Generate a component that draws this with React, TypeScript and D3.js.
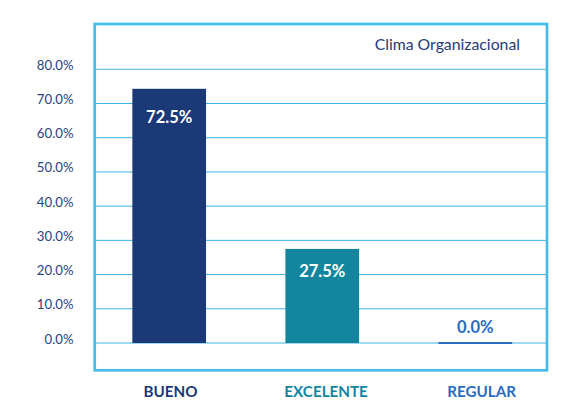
import React from 'react';
import * as d3 from 'd3';

// Chart data
const categories = ['BUENO', 'EXCELENTE', 'REGULAR'];
const barValues = [74.3, 27.5, 0];
const labelValues = [72.5, 27.5, 0.0];
const barColors = ['#1b3877', '#13869f', '#2b6cc2'];
const yTicks = [0, 10, 20, 30, 40, 50, 60, 70, 80];
const chartTitle = 'Clima Organizacional';

const WIDTH = 586;
const HEIGHT = 412;
const FONT = 'Lato, "Open Sans", sans-serif';

const App: React.FC = () => {
  const frame = { x: 94.7, y: 24, w: 452.3, h: 346.3 };

  const yScale = d3.scaleLinear().domain([0, 80]).range([343, 69.3]);
  const xBar = d3.scalePoint<string>().domain(categories).range([169.2, 475.3]);
  const xLabel = d3.scalePoint<string>().domain(categories).range([170.5, 481.7]);
  const barWidth = 73.7;
  const fmt = (v: number) => d3.format('.1f')(v) + '%';

  return (
    <svg
      width={WIDTH}
      height={HEIGHT}
      style={{ position: 'absolute', left: 0, top: 0, background: '#fff' }}
    >
      {/* gridlines */}
      {yTicks.map(t => (
        <line
          key={'g' + t}
          x1={frame.x}
          x2={frame.x + frame.w}
          y1={yScale(t)}
          y2={yScale(t)}
          stroke="#3cb4e4"
          strokeWidth={1}
        />
      ))}

      {/* tick labels */}
      {yTicks.map(t => (
        <text
          key={'t' + t}
          x={73.5}
          y={yScale(t) + 0.5}
          textAnchor="end"
          fontFamily={FONT}
          fontSize={13.2}
          fill="#2b3f7c"
        >
          {fmt(t)}
        </text>
      ))}

      {/* bars */}
      {categories.map((c, i) => {
        const y0 = yScale(0);
        const h = Math.max(y0 - yScale(barValues[i]), 2);
        const top = barValues[i] === 0 ? y0 - 1 : yScale(barValues[i]);
        return (
          <rect
            key={'b' + c}
            x={(xBar(c) || 0) - barWidth / 2}
            y={top}
            width={barWidth}
            height={h}
            fill={barColors[i]}
          />
        );
      })}

      {/* value labels */}
      {categories.map((c, i) => {
        const inside = labelValues[i] > 5;
        return (
          <text
            key={'v' + c}
            x={xBar(c) || 0}
            y={inside ? yScale(labelValues[i]) + 27.8 : yScale(0) - 9.7}
            textAnchor="middle"
            fontFamily={FONT}
            fontWeight={700}
            fontSize={16.5}
            fill={inside ? '#ffffff' : barColors[i]}
          >
            {fmt(labelValues[i])}
          </text>
        );
      })}

      {/* frame */}
      <rect
        x={frame.x}
        y={frame.y}
        width={frame.w}
        height={frame.h}
        fill="none"
        stroke="#45bdea"
        strokeWidth={2.7}
      />

      {/* title */}
      <text
        x={520}
        y={50}
        textAnchor="end"
        fontFamily={FONT}
        fontSize={15.8}
        fill="#26397a"
      >
        {chartTitle}
      </text>

      {/* category labels */}
      {categories.map((c, i) => (
        <text
          key={'c' + c}
          x={xLabel(c) || 0}
          y={397}
          textAnchor="middle"
          fontFamily={FONT}
          fontWeight={700}
          fontSize={15.2}
          fill={barColors[i]}
        >
          {c}
        </text>
      ))}
    </svg>
  );
};

export default App;
